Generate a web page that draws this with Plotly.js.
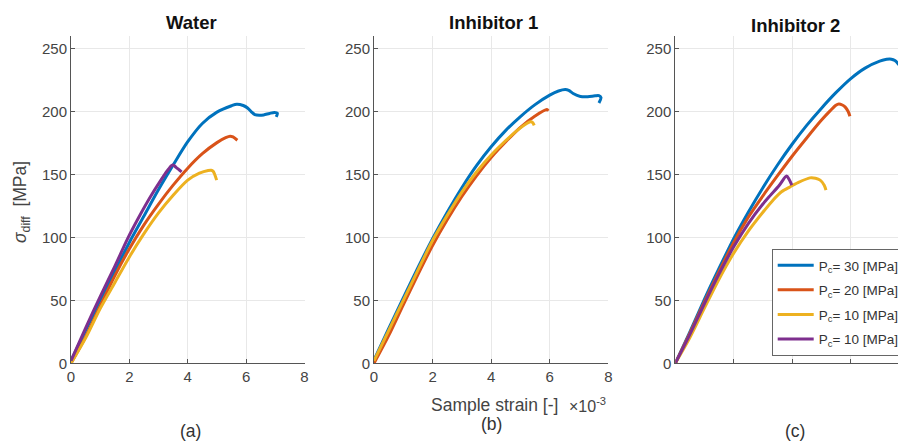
<!DOCTYPE html>
<html><head><meta charset="utf-8">
<script src="https://cdn.plot.ly/plotly-3.0.1.min.js"></script>
<style>body{margin:0;background:#fff}#c{width:898px;height:442px}</style>
</head><body><div id="c"></div>
<script>
// ---- data (strain in 1e-3, stress in MPa) ----
const seriesNames = ['P<sub>c</sub>= 30 [MPa]','P<sub>c</sub>= 20 [MPa]','P<sub>c</sub>= 10 [MPa]','P<sub>c</sub>= 10 [MPa]'];
const colors = ['#0072BD','#D95319','#EDB120','#7E2F8E'];
const panelTitles = ['Water','Inhibitor 1','Inhibitor 2'];
const panelLabels = ['(a)','(b)','(c)'];
const xTicks = [0,2,4,6,8];
const yTicks = [0,50,100,150,200,250];

// Water
const waterBlueX = [0,0.5,1.0,1.5,2.0,2.5,3.0,3.5,4.0,4.5,5.0,5.5,5.68,5.9,6.05,6.18,6.3,6.45,6.6,6.8,6.97,7.07,7.03];
const waterBlueY = [2,26,50,73,96,117,138,157.5,176,190.5,199.5,204.6,205.8,204.8,202.8,199.8,197.5,197,197.3,198.5,199.3,198.6,195.8];
const waterOrangeX = [0,0.5,1.0,1.5,2.0,2.5,3.0,3.5,4.0,4.5,5.0,5.3,5.45,5.55,5.7];
const waterOrangeY = [0,21,45.5,69.5,91,110,126.5,141.5,155,166.5,175.3,179.2,180.4,179.8,177.2];
const waterYellowX = [0,0.5,1.0,1.5,2.0,2.5,3.0,3.5,4.0,4.4,4.7,4.8,4.87,4.99];
const waterYellowY = [0,20,43.5,64,84.5,103,119.5,133.5,145.5,151,153.2,153.4,152.5,145.5];
const waterPurpleX = [0,0.5,1.0,1.5,1.94,2.3,2.7,3.08,3.3,3.44,3.5,3.6,3.79];
const waterPurpleY = [2,28,53,77,99,115,131.5,145.5,153,157,157.6,155.6,152.1];

// Inhibitor 1
const inh1BlueX = [0,0.5,1.0,1.5,2.0,2.5,3.0,3.5,4.0,4.5,5.0,5.5,6.0,6.3,6.53,6.65,6.8,7.05,7.3,7.55,7.68,7.75,7.68];
const inh1BlueY = [2.6,27.5,52,76,99,120,139.5,157,172,185,196,205.5,213,216.3,217.5,216.8,214.3,212,211.8,212.5,212.6,211,206.8];
const inh1OrangeX = [0,0.5,1.0,1.5,2.0,2.5,3.0,3.5,4.0,4.5,5.0,5.5,5.9,5.95];
const inh1OrangeY = [0,22,46.5,70.5,93.5,114,132.5,149,163.5,176,187.5,196.5,201.6,200.5];
const inh1YellowX = [0,0.5,1.0,1.5,2.0,2.5,3.0,3.5,4.0,4.5,5.0,5.34,5.42,5.47];
const inh1YellowY = [2,26,50,74,97.5,117.5,136,152,165.5,177,187,191.8,191.2,189];

// Inhibitor 2
const inh2BlueX = [0,0.5,1.0,1.5,2.0,2.5,3.0,3.5,4.0,4.5,5.0,5.5,6.0,6.5,7.0,7.24,7.4,7.52,7.63,7.72];
const inh2BlueY = [0,25,51,75.5,99,120,139.5,157.5,174,189,202.5,215,226,234.5,240,241.5,241.6,240.5,238,235];
const inh2OrangeX = [0,0.5,1.0,1.5,2.0,2.5,3.0,3.5,4.0,4.5,5.0,5.3,5.5,5.6,5.72,5.82,5.92,5.98];
const inh2OrangeY = [0,24,49,73,96,116,133,149,164.5,179,193,200.5,205,206,205.2,203.5,200,196.3];
const inh2YellowX = [0,0.5,1.0,1.5,2.0,2.5,3.0,3.36,3.65,3.93,4.2,4.61,4.8,4.96,5.1,5.16];
const inh2YellowY = [0,20.5,44,67,87.5,105,120,130,136.5,140.2,143.5,147.3,147,145.5,141.5,137.5];
const inh2PurpleX = [0,0.5,1.0,1.5,2.0,2.5,3.0,3.24,3.55,3.81,3.9,3.99];
const inh2PurpleY = [0,23,47.5,71,92.5,111,126.5,133,141,148.7,146,141.5];

const panels = [
  [[waterBlueX,waterBlueY],[waterOrangeX,waterOrangeY],[waterYellowX,waterYellowY],[waterPurpleX,waterPurpleY]],
  [[inh1BlueX,inh1BlueY],[inh1OrangeX,inh1OrangeY],[inh1YellowX,inh1YellowY],null],
  [[inh2BlueX,inh2BlueY],[inh2OrangeX,inh2OrangeY],[inh2YellowX,inh2YellowY],[inh2PurpleX,inh2PurpleY]]
];

const W = 898, H = 442;
const xDom = [[71/W,304.5/W],[374/W,608.3/W],[675.3/W,1]];
const xRanges = [[0,8],[0,8],[0,(898-675.3)/29.2]];
const yDom = [1-363.3/H, 1-36/H];

const traces = [];
panels.forEach((p,pi)=>{
  p.forEach((s,si)=>{
    if(!s) return;
    traces.push({
      x:s[0], y:s[1], type:'scatter', mode:'lines',
      xaxis: pi===0?'x':'x'+(pi+1), yaxis: pi===0?'y':'y'+(pi+1),
      line:{color:colors[si], width:3, shape:'spline', smoothing:0.8},
      name: seriesNames[si], showlegend: pi===2, legendgroup:'g'+si
    });
  });
});

const tickFont = {family:'Liberation Sans, Arial, sans-serif', size:15, color:'#444'};
const layout = {
  width:W, height:H, margin:{l:0,r:0,t:0,b:0,autoexpand:false},
  paper_bgcolor:'#fff', plot_bgcolor:'#fff',
  font:{family:'Liberation Sans, Arial, sans-serif', color:'#333'},
  showlegend:true,
  legend:{x:771.7/W, y:1-249/H, xanchor:'left', yanchor:'top', bgcolor:'#fff',
    bordercolor:'#666', borderwidth:1, font:{size:13.5, color:'#333'}, tracegroupgap:4,
    itemwidth:36},
  annotations:[]
};
for(let i=0;i<3;i++){
  const sfx = i===0?'':(i+1);
  layout['xaxis'+sfx] = {domain:xDom[i], range:xRanges[i], anchor:'y'+sfx,
    tickvals:xTicks, showticklabels:i!==2, ticks:'inside', ticklen:4, tickcolor:'#555',
    showgrid:true, gridcolor:'#e8e8e8', zeroline:false, showline:true, linecolor:'#555', linewidth:1,
    tickfont:tickFont, fixedrange:true, automargin:false};
  layout['yaxis'+sfx] = {domain:yDom, range:[0,260], anchor:'x'+sfx,
    tickvals:yTicks, ticks:'inside', ticklen:4, tickcolor:'#555',
    showgrid:true, gridcolor:'#e8e8e8', zeroline:false, showline:true, linecolor:'#555', linewidth:1,
    tickfont:tickFont, fixedrange:true, automargin:false};
}
const titlePos = [[191.7,22.7],[493.8,22.7],[795,25]];
const labelPos = [[190,431],[491.7,424],[795,431]];
for(let i=0;i<3;i++){
  layout.annotations.push({text:'<b>'+panelTitles[i]+'</b>', xref:'paper', yref:'paper',
    x:titlePos[i][0]/W, y:1-titlePos[i][1]/H, xanchor:'center', yanchor:'middle', showarrow:false,
    font:{size:18.5, color:'#111'}});
  layout.annotations.push({text:panelLabels[i], xref:'paper', yref:'paper',
    x:labelPos[i][0]/W, y:1-labelPos[i][1]/H, xanchor:'center', yanchor:'middle', showarrow:false,
    font:{size:17.5, color:'#333'}});
}
layout.annotations.push({text:'<i>σ</i><sub>diff</sub>  [MPa]', xref:'paper', yref:'paper',
  x:22/W, y:1-202/H, xanchor:'center', yanchor:'middle', textangle:-90, showarrow:false,
  font:{size:17.5, color:'#444'}});
layout.annotations.push({text:'Sample strain [-]', xref:'paper', yref:'paper',
  x:494.2/W, y:1-405/H, xanchor:'center', yanchor:'middle', showarrow:false,
  font:{size:17.5, color:'#444'}});
layout.annotations.push({text:'×10<sup>-3</sup>', xref:'paper', yref:'paper',
  x:567/W, y:1-405/H, xanchor:'left', yanchor:'middle', showarrow:false,
  font:{size:16, color:'#444'}});

Plotly.newPlot('c', traces, layout, {staticPlot:true});
</script></body></html>
